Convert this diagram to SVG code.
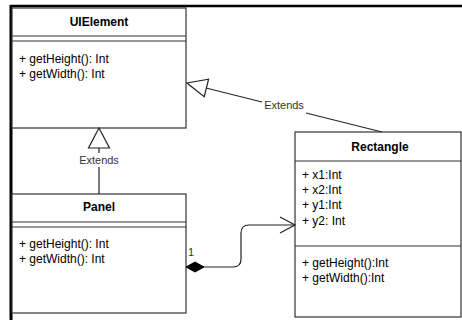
<svg xmlns="http://www.w3.org/2000/svg" width="462" height="320" viewBox="0 0 462 320">
<style>
.box{fill:#fff;stroke:#333;stroke-width:1.2}
.sep{stroke:#333;stroke-width:1.2;fill:none}
.t{font-family:"Liberation Sans",Arial,sans-serif;font-size:12px;fill:#000}
.h{font-family:"Liberation Sans",Arial,sans-serif;font-size:12px;font-weight:bold;fill:#000;text-anchor:middle}
.lbl{font-family:"Liberation Sans",Arial,sans-serif;font-size:11px;fill:#333;text-anchor:middle}
.edge{stroke:#222;stroke-width:1.2;fill:none}
</style>
<rect width="462" height="320" fill="#fff"/>
<g id="frame">
<line x1="10" y1="6" x2="462" y2="6" stroke="#000" stroke-width="2.5"/>
<line x1="11" y1="5" x2="11" y2="320" stroke="#000" stroke-width="3"/>
</g>
<g id="UIElement">
<rect class="box" x="12" y="8" width="174" height="120"/>
<line class="sep" x1="12" y1="36" x2="186" y2="36"/>
<line class="sep" x1="12" y1="41" x2="186" y2="41"/>
<text class="h" x="99" y="26">UIElement</text>
<text class="t" x="19" y="63">+ getHeight(): Int</text>
<text class="t" x="19" y="78">+ getWidth(): Int</text>
</g>
<g id="Panel">
<rect class="box" x="12" y="194" width="174" height="119"/>
<line class="sep" x1="12" y1="222" x2="186" y2="222"/>
<line class="sep" x1="12" y1="227" x2="186" y2="227"/>
<text class="h" x="99" y="211">Panel</text>
<text class="t" x="19" y="248">+ getHeight(): Int</text>
<text class="t" x="19" y="263">+ getWidth(): Int</text>
</g>
<g id="Rectangle">
<rect class="box" x="295" y="132" width="166" height="185"/>
<line class="sep" x1="295" y1="161" x2="461" y2="161"/>
<line class="sep" x1="295" y1="246" x2="461" y2="246"/>
<text class="h" x="380" y="151">Rectangle</text>
<text class="t" x="302" y="179">+ x1:Int</text>
<text class="t" x="302" y="194">+ x2:Int</text>
<text class="t" x="302" y="209">+ y1:Int</text>
<text class="t" x="302" y="225">+ y2: Int</text>
<text class="t" x="302" y="267">+ getHeight():Int</text>
<text class="t" x="302" y="282">+ getWidth():Int</text>
</g>
<g id="connectors">
<g id="panel-extends">
<line class="edge" x1="99" y1="148" x2="99" y2="153"/>
<line class="edge" x1="99" y1="167" x2="99" y2="194"/>
<polygon points="99,128 109.5,148 88.5,148" fill="#fff" stroke="#222" stroke-width="1.2"/>
<text class="lbl" x="99" y="164">Extends</text>
</g>
<g id="rect-extends">
<line class="edge" x1="206" y1="88" x2="262" y2="102"/>
<line class="edge" x1="306" y1="113" x2="382" y2="132"/>
<polygon points="187,83 208.6,79.2 204.2,96.6" fill="#fff" stroke="#222" stroke-width="1.2"/>
<text class="lbl" x="284" y="109">Extends</text>
</g>
<g id="composition">
<path class="edge" d="M204,267 L233,267 Q241,267 241,259 L241,233 Q241,225 249,225 L295,225"/>
<polygon points="186,267 195,262 204,267 195,272" fill="#000" stroke="#000" stroke-width="1"/>
<polyline class="edge" points="280,217 295,225 280,233"/>
<text class="lbl" x="191" y="256" style="font-size:11px">1</text>
</g>
</g>
</svg>
